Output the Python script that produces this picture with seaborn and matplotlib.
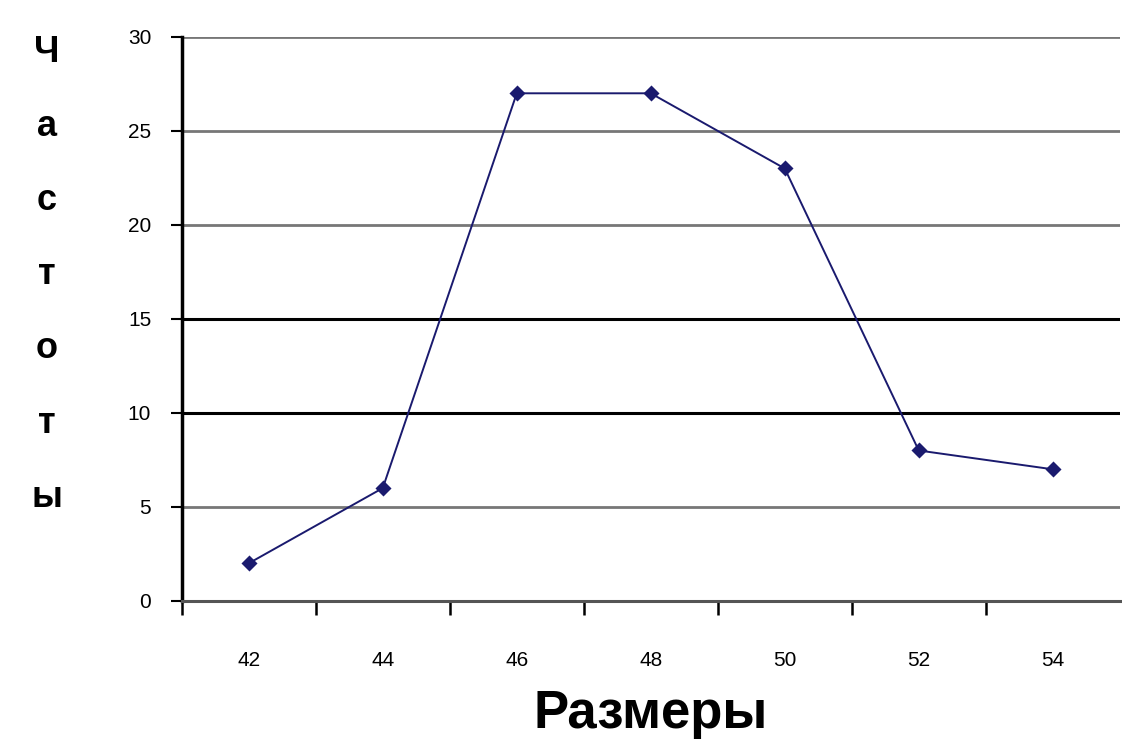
import matplotlib
matplotlib.use("Agg")
import matplotlib.pyplot as plt
import seaborn as sns
import pandas as pd
from matplotlib.ticker import FixedLocator

# data
sizes = ["42", "44", "46", "48", "50", "52", "54"]
freq = [2, 6, 27, 27, 23, 8, 7]
y_ticks = [0, 5, 10, 15, 20, 25, 30]

df = pd.DataFrame({"size": sizes, "freq": freq})

sns.set_style("white")
plt.rcParams["font.family"] = ["Liberation Sans", "DejaVu Sans"]
plt.rcParams["text.color"] = "black"
plt.rcParams["xtick.color"] = "black"
plt.rcParams["ytick.color"] = "black"

fig = plt.figure(figsize=(11.22, 7.53), dpi=100)
ax = fig.add_axes([0.162, 0.202, 0.836, 0.749])

# gridlines (10 and 15 darker, as in the picture)
for y in y_ticks[1:]:
    dark = y in (10, 15)
    ax.axhline(y, color="black" if dark else "#777777",
               lw=2.2 if dark else 2.0, zorder=0)

sns.pointplot(data=df, x="size", y="freq", color="#1a1a6e", markers="D",
              linestyles="-", markersize=7, linewidth=1.4, ax=ax)

ax.set_ylim(0, 30)
ax.set_xlim(-0.5, 6.5)
ax.set_yticks(y_ticks)
ax.set_yticklabels([str(v) for v in y_ticks], fontsize=15)

for s in ["top", "right"]:
    ax.spines[s].set_visible(False)
ax.spines["left"].set_color("black")
ax.spines["left"].set_linewidth(2.5)
ax.spines["bottom"].set_color("#555555")
ax.spines["bottom"].set_linewidth(2.2)

ax.tick_params(axis="y", left=True, direction="out", length=8, width=1.5, pad=14, colors="black")
ax.tick_params(axis="x", which="major", bottom=True, length=0, pad=36, labelsize=15, labelcolor="black")
ax.xaxis.set_minor_locator(FixedLocator([i + 0.5 for i in range(-1, 6)]))
ax.tick_params(axis="x", which="minor", bottom=True, direction="out", length=10, width=1.8, color="black")

ax.set_xlabel("Размеры", fontsize=38, fontweight="bold", labelpad=14, color="black")
ax.set_ylabel("")

# vertical stacked y label
fig.text(0.042, 0.635, "\n".join("Частоты"), fontsize=26, fontweight="bold",
         ha="center", va="center", linespacing=2.45, color="black")

fig.savefig("out.png", dpi=100)
